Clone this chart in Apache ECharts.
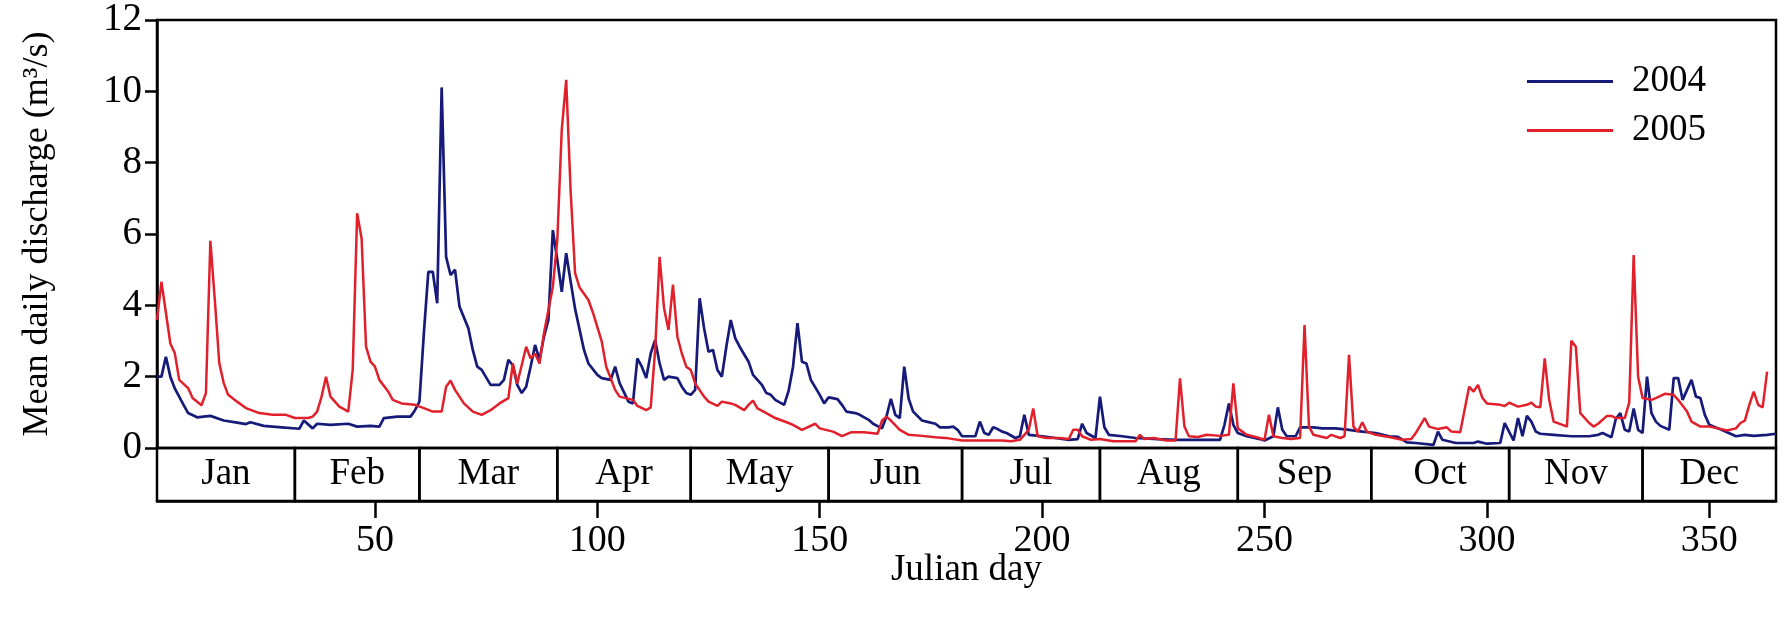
<!DOCTYPE html>
<html>
<head>
<meta charset="utf-8">
<script src="https://cdn.jsdelivr.net/npm/echarts@6/dist/echarts.min.js"></script>
<style>
  html, body { margin: 0; padding: 0; background: #fff; }
  #chart { width: 1786px; height: 623px; }
</style>
</head>
<body>
<div id="chart"></div>
<script>
// Mean daily discharge, vertices of each year's hydrograph (Julian day, m3/s)
const days2004 = [1,2,3,4,5,7,8,10,13,16,19,21,22,25,29,33,34,36,37,40,44,46,49,51,52,55,58,59,60,61,62,63,64,65,66,67,68,69,71,72,73,74,76,78,79,80,81,82,83,84,85,86,87,88,89,90,91,92,93,94,95,97,98,100,101,103,104,105,107,108,109,110,111,112,113,114,115,116,118,119,120,121,122,123,124,125,126,127,128,129,130,131,132,134,135,137,138,139,140,142,143,144,145,146,147,148,150,151,152,154,155,156,158,159,161,162,164,165,166,167,168,169,170,171,173,174,176,177,179,180,181,182,185,186,187,188,189,190,191,192,194,195,196,197,200,203,206,208,209,210,212,213,214,215,218,221,226,230,235,240,241,242,243,244,246,249,250,252,253,254,255,257,258,261,263,266,269,272,275,278,280,282,284,288,289,290,293,297,298,300,303,304,306,307,308,309,310,311,312,315,319,323,325,326,328,329,330,331,332,333,334,335,336,337,338,339,341,342,343,344,345,346,347,348,349,350,352,354,356,358,360,363,365];
const q2004 = [2.0,2.0,2.56,2.0,1.67,1.2,0.98,0.86,0.9,0.77,0.71,0.67,0.72,0.62,0.58,0.54,0.77,0.55,0.68,0.65,0.68,0.6,0.62,0.6,0.84,0.88,0.88,1.06,1.3,3.22,4.94,4.94,4.06,10.11,5.36,4.85,5.0,3.97,3.36,2.75,2.28,2.19,1.77,1.77,1.91,2.47,2.32,1.77,1.54,1.72,2.28,2.89,2.47,3.12,3.59,6.11,5.27,4.38,5.46,4.67,3.9,2.75,2.37,2.05,1.96,1.91,2.28,1.82,1.3,1.25,2.51,2.28,1.96,2.65,3.03,2.37,1.91,2.0,1.96,1.72,1.54,1.49,1.63,4.2,3.36,2.7,2.75,2.19,2.0,2.84,3.59,3.08,2.84,2.42,2.05,1.77,1.54,1.49,1.35,1.21,1.6,2.28,3.5,2.42,2.37,1.91,1.49,1.25,1.42,1.37,1.21,1.02,0.98,0.93,0.79,0.68,0.55,0.88,1.38,0.93,0.84,2.28,1.38,1.02,0.77,0.74,0.68,0.58,0.58,0.6,0.51,0.33,0.33,0.74,0.42,0.37,0.58,0.53,0.46,0.42,0.28,0.33,0.93,0.37,0.33,0.28,0.23,0.25,0.68,0.42,0.28,1.44,0.58,0.37,0.33,0.28,0.25,0.23,0.23,0.23,0.65,1.25,0.65,0.42,0.33,0.25,0.21,0.33,1.14,0.51,0.33,0.33,0.58,0.58,0.55,0.55,0.51,0.46,0.42,0.33,0.31,0.16,0.14,0.09,0.46,0.23,0.14,0.14,0.18,0.12,0.14,0.7,0.21,0.84,0.33,0.9,0.74,0.46,0.4,0.37,0.33,0.33,0.37,0.42,0.3,0.82,0.98,0.51,0.46,1.11,0.51,0.42,2.0,0.98,0.74,0.62,0.51,1.96,1.96,1.35,1.63,1.91,1.44,1.4,0.93,0.65,0.55,0.44,0.33,0.37,0.34,0.37,0.4];

const days2005 = [1,2,4,5,6,8,9,11,12,13,14,15,16,17,19,21,24,27,30,32,35,36,37,38,39,40,42,44,45,46,47,48,49,50,51,53,54,56,59,61,63,65,66,67,68,70,72,74,76,78,80,81,82,84,85,86,87,88,90,91,92,93,94,95,96,98,99,101,102,104,105,108,109,111,112,113,114,115,116,117,118,119,120,121,122,124,125,127,128,130,131,133,134,135,136,138,140,143,144,146,149,150,153,155,157,160,163,164,165,166,168,170,173,176,179,182,186,191,193,195,197,198,199,201,204,206,207,208,209,211,213,216,221,222,223,225,228,230,231,232,233,235,237,240,242,243,244,246,248,250,251,252,254,256,258,259,260,261,264,265,267,268,269,270,271,272,273,275,278,281,283,284,286,287,289,291,292,294,296,297,298,299,300,303,304,305,307,309,310,311,312,313,314,315,317,318,319,320,321,323,324,325,327,328,329,331,332,333,334,335,337,338,340,342,343,345,346,348,350,352,354,356,357,358,359,360,361,362,363];
const q2005 = [3.59,4.66,2.93,2.66,1.91,1.68,1.4,1.2,1.54,5.81,4.15,2.38,1.82,1.49,1.3,1.12,0.98,0.93,0.93,0.84,0.84,0.88,1.02,1.44,2.0,1.44,1.16,1.02,2.19,6.58,5.88,2.84,2.42,2.28,1.91,1.58,1.35,1.25,1.21,1.12,1.02,1.02,1.72,1.89,1.63,1.25,1.02,0.93,1.06,1.25,1.4,2.37,1.81,2.84,2.51,2.65,2.37,3.22,4.52,5.83,8.92,10.32,7.2,4.9,4.5,4.15,3.8,2.98,2.28,1.63,1.44,1.35,1.18,1.06,1.14,2.75,5.36,3.92,3.31,4.58,3.12,2.65,2.28,2.19,1.81,1.44,1.3,1.18,1.3,1.25,1.21,1.06,1.21,1.33,1.11,0.98,0.84,0.7,0.65,0.51,0.68,0.55,0.46,0.33,0.44,0.44,0.4,0.77,0.88,0.77,0.51,0.37,0.34,0.3,0.27,0.21,0.21,0.21,0.19,0.23,0.51,1.11,0.33,0.28,0.28,0.25,0.51,0.51,0.33,0.23,0.25,0.19,0.19,0.37,0.25,0.28,0.21,0.21,1.95,0.6,0.33,0.31,0.37,0.34,0.37,1.81,0.55,0.37,0.31,0.23,0.93,0.33,0.28,0.25,0.28,3.45,0.6,0.37,0.28,0.37,0.28,0.33,2.61,0.6,0.46,0.72,0.46,0.37,0.31,0.23,0.25,0.42,0.84,0.6,0.53,0.58,0.46,0.44,1.72,1.58,1.77,1.4,1.25,1.21,1.18,1.27,1.16,1.21,1.27,1.16,1.14,2.51,1.35,0.74,0.65,0.6,3.01,2.84,0.98,0.7,0.6,0.68,0.9,0.9,0.84,0.84,1.27,5.41,2.0,1.4,1.35,1.4,1.52,1.49,1.35,1.02,0.74,0.6,0.6,0.55,0.49,0.55,0.7,0.77,1.21,1.58,1.21,1.14,2.14];

// Month band below the plot
const monthNames = ['Jan','Feb','Mar','Apr','May','Jun','Jul','Aug','Sep','Oct','Nov','Dec'];
const monthStart = [1,32,60,91,121,152,182,213,244,274,305,335];
const monthEnd   = [32,60,91,121,152,182,213,244,274,305,335,365];

const dayTicks = [50,100,150,200,250,300,350];
const seriesNames = ['2004','2005'];

const FONT = "'Liberation Serif', 'DejaVu Serif', serif";
const BLUE = '#161a78';
const RED = '#e1202b';

const zip = (xs, ys) => xs.map((x, i) => [x, ys[i]]);

const chart = echarts.init(document.getElementById('chart'), null, { renderer: 'canvas' });

chart.setOption({
  animation: false,
  backgroundColor: '#fff',
  textStyle: { fontFamily: FONT, color: '#000' },
  grid: [
    { left: 157, right: 10, top: 20, height: 428, show: true, borderColor: '#000', borderWidth: 2.5, backgroundColor: 'transparent' },
    { left: 157, right: 10, top: 448, height: 53 }
  ],
  legend: {
    orient: 'vertical',
    left: 1522, top: 58,
    itemWidth: 86, itemHeight: 3, itemGap: 12,
    icon: 'rect',
    textStyle: { fontFamily: FONT, fontSize: 37, color: '#000', padding: [0, 0, 0, 14] },
    data: seriesNames
  },
  xAxis: [
    { gridIndex: 0, type: 'value', min: 1, max: 365,
      axisLine: { show: false }, axisTick: { show: false }, axisLabel: { show: false }, splitLine: { show: false } },
    { gridIndex: 1, type: 'value', min: 1, max: 365, position: 'bottom',
      axisLine: { show: true, lineStyle: { color: '#000', width: 2.5 } },
      axisTick: { show: true, inside: false, length: 17, customValues: dayTicks, lineStyle: { color: '#000', width: 2.5 } },
      axisLabel: { customValues: dayTicks, fontFamily: FONT, fontSize: 38, color: '#000', margin: 21 },
      splitLine: { show: false },
      name: 'Julian day', nameLocation: 'middle', nameGap: 51, nameMoveOverlap: false,
      nameTextStyle: { fontFamily: FONT, fontSize: 37, color: '#000' } }
  ],
  yAxis: [
    { gridIndex: 0, type: 'value', min: 0, max: 12, interval: 2,
      axisLine: { show: true, lineStyle: { color: '#000', width: 2.5 } },
      axisTick: { show: true, inside: false, length: 12, lineStyle: { color: '#000', width: 2.5 } },
      axisLabel: { fontFamily: FONT, fontSize: 39, color: '#000', margin: 15 },
      splitLine: { show: false },
      name: 'Mean daily discharge (m³/s)', nameLocation: 'middle', nameGap: 101, nameRotate: 90, nameMoveOverlap: false,
      nameTextStyle: { fontFamily: FONT, fontSize: 36, color: '#000' } },
    { gridIndex: 1, type: 'value', min: 0, max: 1, show: false }
  ],
  series: [
    { name: '2004', type: 'line', xAxisIndex: 0, yAxisIndex: 0, data: zip(days2004, q2004),
      showSymbol: false, symbol: 'none', lineStyle: { color: BLUE, width: 2.7 }, itemStyle: { color: BLUE } },
    { name: '2005', type: 'line', xAxisIndex: 0, yAxisIndex: 0, data: zip(days2005, q2005),
      showSymbol: false, symbol: 'none', lineStyle: { color: RED, width: 2.5 }, itemStyle: { color: RED } },
    { type: 'custom', xAxisIndex: 1, yAxisIndex: 1, silent: true, clip: false,
      data: monthStart.map((s, i) => [s, monthEnd[i]]),
      renderItem: function (params, api) {
        const a = api.coord([api.value(0), 1]);
        const b = api.coord([api.value(1), 0]);
        return {
          type: 'group',
          children: [
            { type: 'rect', shape: { x: a[0], y: a[1], width: b[0] - a[0], height: b[1] - a[1] },
              style: { fill: 'none', stroke: '#000', lineWidth: 2.5 } },
            { type: 'text', style: { x: (a[0] + b[0]) / 2, y: (a[1] + b[1]) / 2, text: monthNames[params.dataIndex],
              align: 'center', verticalAlign: 'middle', font: '37px ' + FONT, fill: '#000' } }
          ]
        };
      } }
  ]
});
</script>
</body>
</html>
